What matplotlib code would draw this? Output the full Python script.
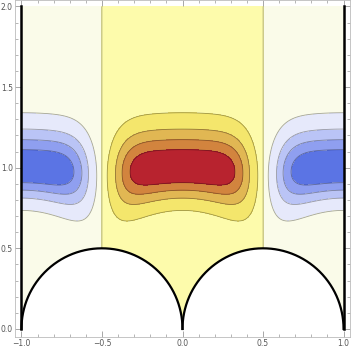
import numpy as np
import matplotlib.pyplot as plt
from matplotlib.ticker import MultipleLocator

# contour levels and fill colours (lowest band first)
levels = [-10.0, -3.0, -2.0, -1.0, 0.0, 1.0, 2.0, 3.0, 4.0, 5.0, 10.0]
fill_colors = ['#5b74e4', '#8f9ff0', '#bac4f6', '#e6e9fb', '#fafbe9',
               '#fdfbab', '#f4e66c', '#e1b753', '#d2843e', '#b8232f']

# bump parameters
blob_peak = 4.5
blob_xwidth = 0.41
blob_ycenter = 0.995
blob_ybend = 0.2
blob_ytop = 0.165
blob_ybottom = 0.124
blob_bottom_bend = 0.28
inner_base = 1.5
outer_base = 0.5

# excluded half discs and edges of the domain
circle_x = [-0.5, 0.5]
circle_r = 0.5
edge_x = [-1.0, 1.0]
y_top = 2.0

xticks = [-1.0, -0.5, 0.0, 0.5, 1.0]
yticks = [0.0, 0.5, 1.0, 1.5, 2.0]


def blob(u, y):
    bx = np.exp(-(np.abs(u) / blob_xwidth) ** 6)
    yc = blob_ycenter - blob_ybend * u ** 2
    s = np.where(y > yc, blob_ytop, blob_ybottom + blob_bottom_bend * u ** 2)
    return blob_peak * bx * np.exp(-0.5 * ((y - yc) / s) ** 2)


x = np.linspace(-1, 1, 800)
y = np.linspace(0, y_top, 800)
X, Y = np.meshgrid(x, y)
inner = np.abs(X) < 0.5
Z = np.where(inner, inner_base + blob(X, Y),
             outer_base - blob(np.abs(X) - 1, Y))
hole = np.zeros_like(Z, dtype=bool)
for cx in circle_x:
    hole |= (X - cx) ** 2 + Y ** 2 < circle_r ** 2
Z = np.ma.masked_where(hole, Z)

fig = plt.figure(figsize=(3.51, 3.5), dpi=100)
ax = fig.add_axes([15 / 351, 13 / 350, 335 / 351, 337 / 350])

ax.contourf(X, Y, Z, levels=levels, colors=fill_colors)
ax.contour(X, Y, Z, levels=levels[1:-1], colors='k', alpha=0.35,
           linewidths=0.6, linestyles='solid')

t = np.linspace(0, np.pi, 300)
for cx in circle_x:
    ax.plot(cx + circle_r * np.cos(t), circle_r * np.sin(t), color='k', lw=1.6)
for ex in edge_x:
    ax.plot([ex, ex], [0, y_top], color='k', lw=1.8)

ax.set_xlim(-1.04, 1.04)
ax.set_ylim(-0.05, 2.04)
ax.set_xticks(xticks)
ax.set_yticks(yticks)
ax.xaxis.set_minor_locator(MultipleLocator(0.1))
ax.yaxis.set_minor_locator(MultipleLocator(0.1))
ax.tick_params(which='both', direction='in', top=True, right=True,
               color='#999999', labelsize=5.5, labelcolor='#555555', pad=1.5)
ax.tick_params(which='major', length=4, width=0.6)
ax.tick_params(which='minor', length=2, width=0.5)
for sp in ax.spines.values():
    sp.set_color('#bbbbbb')
    sp.set_linewidth(0.6)

fig.savefig('out.png', dpi=100)
